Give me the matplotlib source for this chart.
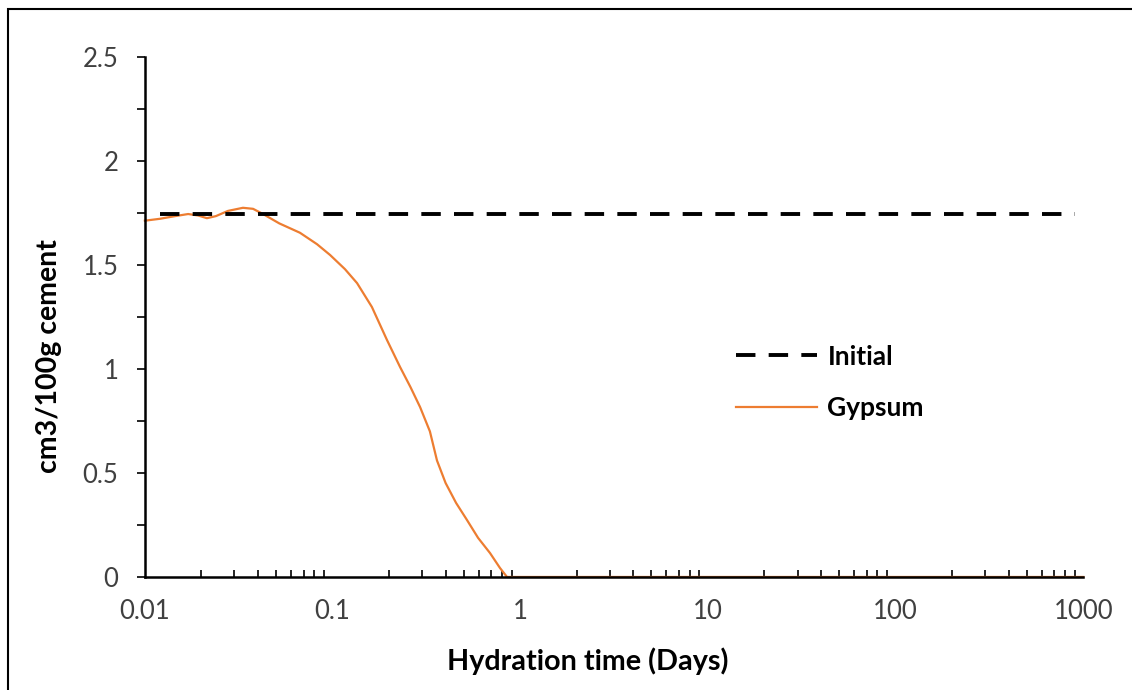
import matplotlib.pyplot as plt
from matplotlib.patches import Rectangle
from matplotlib.ticker import FixedLocator, NullFormatter, LogLocator

plt.rcParams['font.family'] = ['Lato', 'DejaVu Sans']

# data
initial_t = [0.012, 900]
initial_v = [1.745, 1.745]

gypsum_t = [0.01, 0.012, 0.0145, 0.017, 0.0192, 0.0214, 0.0239, 0.0277, 0.0333,
            0.0377, 0.0426, 0.052, 0.067, 0.0826, 0.097, 0.1164, 0.135, 0.162,
            0.195, 0.2287, 0.26, 0.2925, 0.33, 0.36, 0.40, 0.455, 0.52, 0.596,
            0.69, 0.78, 0.85, 1.1, 10, 100, 1000]
gypsum_v = [1.713, 1.722, 1.735, 1.745, 1.738, 1.725, 1.735, 1.76, 1.775,
            1.77, 1.745, 1.70, 1.655, 1.60, 1.548, 1.48, 1.413, 1.298,
            1.139, 1.01, 0.913, 0.817, 0.70, 0.56, 0.452, 0.356, 0.274, 0.188,
            0.115, 0.043, 0.0, 0.0, 0.0, 0.0, 0.0]

y_ticks = [0, 0.5, 1, 1.5, 2, 2.5]
y_labels = ['0', '0.5', '1', '1.5', '2', '2.5']
x_ticks = [0.01, 0.1, 1, 10, 100, 1000]
x_labels = ['0.01', '0.1', '1', '10', '100', '1000']

fig = plt.figure(figsize=(11.32, 6.9), dpi=100)
ax = fig.add_axes([0.128, 0.1638, 0.829, 0.7536])

ax.plot(gypsum_t, gypsum_v, color='#ED7D31', lw=1.6, label='Gypsum', zorder=2,
        clip_on=False, solid_joinstyle='round')
ax.plot(initial_t, initial_v, color='black', lw=2.8, dashes=(5, 3.4),
        label='Initial', zorder=3)

ax.set_xscale('log')
ax.set_xlim(0.01, 1000)
ax.set_ylim(0, 2.5)

ax.set_xticks(x_ticks)
ax.set_xticklabels(x_labels)
ax.xaxis.set_minor_locator(LogLocator(base=10, subs=range(2, 10)))
ax.xaxis.set_minor_formatter(NullFormatter())
ax.tick_params(axis='x', which='major', length=0, pad=16, labelsize=18.5,
               colors='#404040')
ax.tick_params(axis='x', which='minor', direction='in', length=5, width=1.2,
               color='black')

ax.set_yticks(y_ticks)
ax.set_yticklabels(y_labels)
ax.yaxis.set_minor_locator(FixedLocator([0.25, 0.75, 1.25, 1.75, 2.25]))
ax.tick_params(axis='y', which='both', direction='out', length=6, width=1.2,
               labelsize=18.5, colors='#404040', pad=13)
ax.tick_params(axis='y', which='both', color='black')

for s in ['top', 'right']:
    ax.spines[s].set_visible(False)
for s in ['left', 'bottom']:
    ax.spines[s].set_linewidth(1.8)
    ax.spines[s].set_color('black')
    ax.spines[s].set_zorder(4)

ax.set_xlabel('Hydration time (Days)', fontsize=20.7, fontweight='bold')
ax.xaxis.set_label_coords(0.472, -0.162)
ax.xaxis.label.set_va('center')
ax.set_ylabel('cm3/100g cement', fontsize=20.5, fontweight='bold')
ax.yaxis.set_label_coords(-0.102, 0.424)
ax.yaxis.label.set_va('center')
ax.yaxis.label.set_ha('center')

handles, labels = ax.get_legend_handles_labels()
ax.legend(handles[::-1], labels[::-1], loc='center left',
          bbox_to_anchor=(0.605, 0.374), frameon=False,
          prop={'weight': 'bold', 'size': 19}, handlelength=3.07,
          labelspacing=1.05, handletextpad=0.38)

fig.patches.append(Rectangle((0.0071, -0.1), 1.1, 1.087, transform=fig.transFigure,
                             fill=False, edgecolor='black', lw=1.5))

fig.savefig('out.png', dpi=100)
